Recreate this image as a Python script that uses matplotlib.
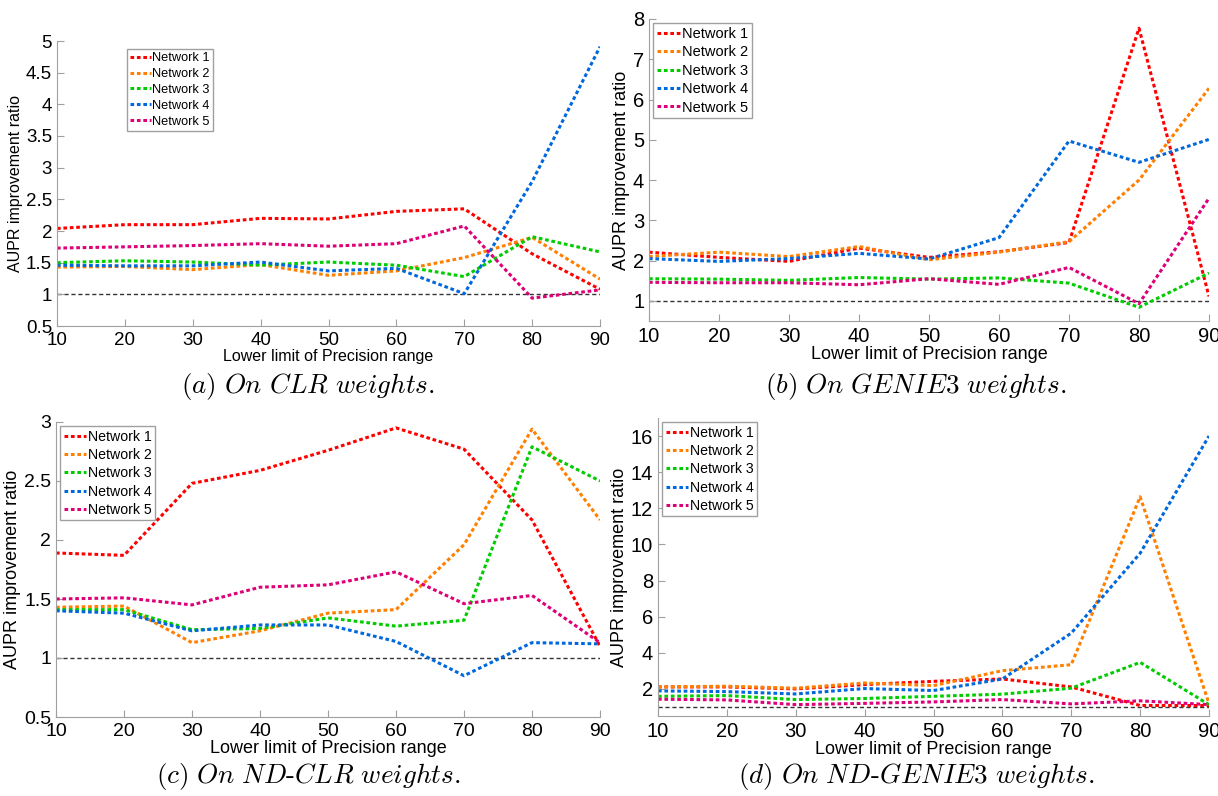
import matplotlib
matplotlib.use('Agg')
import matplotlib.pyplot as plt

plt.rcParams['font.family'] = ['Liberation Sans', 'DejaVu Sans']
plt.rcParams['mathtext.fontset'] = 'cm'

precision = [10, 20, 30, 40, 50, 60, 70, 80, 90]
names = ['Network 1', 'Network 2', 'Network 3', 'Network 4', 'Network 5']
colors = ['#ff0000', '#ff8000', '#00cc00', '#0068dd', '#dd0077']

# (a) CLR
clr = [
    [2.04, 2.10, 2.10, 2.20, 2.19, 2.31, 2.35, 1.64, 1.08],
    [1.43, 1.44, 1.39, 1.47, 1.30, 1.37, 1.58, 1.90, 1.24],
    [1.50, 1.53, 1.51, 1.46, 1.51, 1.46, 1.28, 1.91, 1.67],
    [1.46, 1.45, 1.45, 1.51, 1.37, 1.41, 1.01, 2.78, 4.91],
    [1.73, 1.75, 1.77, 1.80, 1.76, 1.80, 2.08, 0.94, 1.07],
]
# (b) GENIE3
genie3 = [
    [2.21, 2.08, 1.98, 2.31, 2.08, 2.22, 2.45, 7.77, 1.11],
    [2.10, 2.21, 2.10, 2.35, 2.02, 2.21, 2.47, 4.00, 6.28],
    [1.55, 1.54, 1.51, 1.58, 1.54, 1.57, 1.44, 0.84, 1.69],
    [2.05, 1.98, 2.05, 2.18, 2.04, 2.57, 4.97, 4.44, 5.01],
    [1.46, 1.45, 1.45, 1.40, 1.55, 1.41, 1.83, 0.93, 3.55],
]
# (c) ND-CLR
nd_clr = [
    [1.89, 1.87, 2.48, 2.59, 2.76, 2.95, 2.77, 2.17, 1.10],
    [1.43, 1.44, 1.13, 1.23, 1.38, 1.41, 1.96, 2.94, 2.17],
    [1.41, 1.41, 1.24, 1.25, 1.34, 1.27, 1.32, 2.79, 2.50],
    [1.40, 1.38, 1.23, 1.28, 1.28, 1.14, 0.85, 1.13, 1.12],
    [1.50, 1.51, 1.45, 1.60, 1.62, 1.73, 1.46, 1.53, 1.13],
]
# (d) ND-GENIE3
nd_genie3 = [
    [2.11, 2.11, 2.00, 2.24, 2.42, 2.55, 2.11, 1.08, 1.08],
    [2.11, 2.15, 2.04, 2.33, 2.18, 3.01, 3.34, 12.64, 1.19],
    [1.59, 1.63, 1.41, 1.47, 1.59, 1.71, 2.04, 3.47, 1.13],
    [1.89, 1.85, 1.72, 2.02, 1.91, 2.55, 5.09, 9.51, 16.0],
    [1.43, 1.39, 1.13, 1.20, 1.28, 1.41, 1.17, 1.34, 1.13],
]

W, H = 1218, 796
fig = plt.figure(figsize=(W / 100, H / 100), dpi=100)


def box(l, t, r, b):
    return [l / W, 1 - b / H, (r - l) / W, (b - t) / H]


# data, axes box, ylim, yticks, legend anchor, legend size, label size, tick size, caption, caption pos
panels = [
    (clr, box(57, 41, 600, 326), (0.5, 5), [0.5, 1, 1.5, 2, 2.5, 3, 3.5, 4, 4.5, 5],
     (0.122, 0.985), 9.2, 11.5, 13.5, '(a)\\ On\\ CLR\\ weights.', (308, 387)),
    (genie3, box(649, 19, 1209, 321), (0.5, 8), [1, 2, 3, 4, 5, 6, 7, 8],
     (0.0, 1.0), 10.5, 13, 14.5, '(b)\\ On\\ GENIE3\\ weights.', (916, 387)),
    (nd_clr, box(56, 422, 600, 717), (0.5, 3), [0.5, 1, 1.5, 2, 2.5, 3],
     (0.0, 1.0), 10.2, 13, 14, '(c)\\ On\\ ND\\text{-}CLR\\ weights.', (308, 776)),
    (nd_genie3, box(658, 418, 1209, 716), (0.5, 17), [2, 4, 6, 8, 10, 12, 14, 16],
     (0.0, 1.0), 10.2, 13, 14.5, '(d)\\ On\\ ND\\text{-}GENIE3\\ weights.', (916, 776)),
]

for data, rect, ylim, yticks, lloc, lfs, labfs, tickfs, caption, cpos in panels:
    ax = fig.add_axes(rect)
    ax.axhline(1, color='#333333', lw=1, linestyle=(0, (3, 2)), zorder=1)
    for vals, name, c in zip(data, names, colors):
        ax.plot(precision, vals, color=c, lw=2.2, linestyle=(0, (1.2, 0.9)),
                label=name, zorder=2)
    ax.set_xlim(10, 90)
    ax.set_ylim(*ylim)
    ax.set_xticks(precision)
    ax.set_yticks(yticks)
    ax.set_yticklabels([('%g' % v) for v in yticks])
    for s in ['top', 'right']:
        ax.spines[s].set_visible(False)
    for s in ['left', 'bottom']:
        ax.spines[s].set_color('#a0a0a0')
    ax.tick_params(direction='in', color='#a0a0a0', labelsize=tickfs, length=5,
                   width=0.8)
    ax.tick_params(axis='x', pad=4)
    ax.set_xlabel('Lower limit of Precision range', fontsize=labfs, labelpad=0)
    ax.set_ylabel('AUPR improvement ratio', fontsize=labfs, labelpad=2)
    leg = ax.legend(loc='upper left', bbox_to_anchor=lloc, fontsize=lfs,
                    handlelength=1.6, handletextpad=0.1, labelspacing=0.3,
                    borderpad=0.25, borderaxespad=0.3, fancybox=False,
                    framealpha=1)
    leg.get_frame().set_edgecolor('#a0a0a0')
    leg.get_frame().set_linewidth(1)
    fig.text(cpos[0] / W, 1 - cpos[1] / H, r'$\it{' + caption + '}$',
             fontsize=19.5, ha='center', va='center')

plt.savefig('out.png', dpi=100)
